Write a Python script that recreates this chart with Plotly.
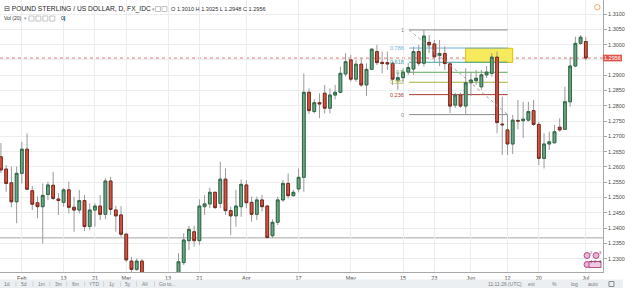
import plotly.graph_objects as go
import pandas as pd

# ---------------- data (GBPUSD daily) ----------------
dates = pd.bdate_range("2017-01-26", "2017-07-03")

opens = [1.2633, 1.2593, 1.2548, 1.2486, 1.2579, 1.2658, 1.2522, 1.2483, 1.2470, 1.2510,
         1.2540, 1.2495, 1.2484, 1.2525, 1.2468, 1.2459, 1.2490, 1.2405, 1.2459, 1.2472,
         1.2445, 1.2554, 1.2459, 1.2443, 1.2380, 1.2292, 1.2265, 1.2292, 1.2250, 1.2200,
         1.2170, 1.2160, 1.2185, 1.2220, 1.2155, 1.2287, 1.2359, 1.2388, 1.2359, 1.2470,
         1.2479, 1.2517, 1.2481, 1.2560, 1.2457, 1.2440, 1.2470, 1.2541, 1.2484, 1.2445,
         1.2492, 1.2472, 1.2375, 1.2419, 1.2492, 1.2546, 1.2506, 1.2528, 1.2566, 1.2844,
         1.2781, 1.2810, 1.2841, 1.2792, 1.2835, 1.2844, 1.2904, 1.2950, 1.2887, 1.2936,
         1.2868, 1.2919, 1.2977, 1.2942, 1.2941, 1.2939, 1.2884, 1.2892, 1.2910, 1.2920,
         1.2977, 1.2939, 1.3007, 1.3002, 1.2964, 1.2971, 1.2937, 1.2802, 1.2835, 1.2799,
         1.2875, 1.2882, 1.2862, 1.2901, 1.2906, 1.2959, 1.2740, 1.2721, 1.2675, 1.2752,
         1.2751, 1.2753, 1.2784, 1.2739, 1.2628, 1.2675, 1.2679, 1.2730, 1.2723, 1.2813,
         1.2930, 1.3004, 1.3010]
highs = [1.2678, 1.2606, 1.2601, 1.2601, 1.2682, 1.2710, 1.2538, 1.2503, 1.2546, 1.2552,
         1.2584, 1.2514, 1.2530, 1.2552, 1.2503, 1.2525, 1.2508, 1.2481, 1.2481, 1.2508,
         1.2563, 1.2568, 1.2472, 1.2472, 1.2384, 1.2306, 1.2301, 1.2299, 1.2255, 1.2215,
         1.2190, 1.2215, 1.2250, 1.2230, 1.2318, 1.2383, 1.2407, 1.2408, 1.2494, 1.2508,
         1.2532, 1.2519, 1.2617, 1.2595, 1.2470, 1.2525, 1.2559, 1.2557, 1.2503, 1.2503,
         1.2508, 1.2475, 1.2429, 1.2503, 1.2557, 1.2579, 1.2525, 1.2595, 1.2906, 1.2857,
         1.2821, 1.2841, 1.2868, 1.2857, 1.2868, 1.2928, 1.2972, 1.2966, 1.2950, 1.2955,
         1.2939, 1.2988, 1.2999, 1.2977, 1.2977, 1.2944, 1.2910, 1.2923, 1.2940, 1.2993,
         1.2999, 1.3048, 1.3031, 1.3015, 1.3015, 1.2995, 1.2943, 1.2842, 1.2842, 1.2923,
         1.2910, 1.2917, 1.2917, 1.2930, 1.2972, 1.2977, 1.2830, 1.2770, 1.2770, 1.2819,
         1.2813, 1.2813, 1.2819, 1.2747, 1.2710, 1.2715, 1.2737, 1.2759, 1.2862, 1.2960,
         1.3026, 1.3031, 1.3025]
lows = [1.2580, 1.2519, 1.2468, 1.2416, 1.2546, 1.2525, 1.2459, 1.2432, 1.2350, 1.2492,
        1.2492, 1.2443, 1.2470, 1.2448, 1.2388, 1.2448, 1.2390, 1.2394, 1.2405, 1.2426,
        1.2429, 1.2443, 1.2388, 1.2372, 1.2290, 1.2256, 1.2260, 1.2235, 1.2195, 1.2160,
        1.2135, 1.2150, 1.2180, 1.2110, 1.2145, 1.2279, 1.2328, 1.2339, 1.2345, 1.2443,
        1.2465, 1.2462, 1.2465, 1.2443, 1.2377, 1.2405, 1.2437, 1.2465, 1.2421, 1.2426,
        1.2454, 1.2367, 1.2367, 1.2410, 1.2486, 1.2497, 1.2503, 1.2517, 1.2519, 1.2773,
        1.2775, 1.2759, 1.2775, 1.2775, 1.2821, 1.2841, 1.2895, 1.2879, 1.2878, 1.2862,
        1.2832, 1.2917, 1.2933, 1.2906, 1.2917, 1.2868, 1.2852, 1.2878, 1.2901, 1.2901,
        1.2930, 1.2928, 1.2972, 1.2943, 1.2930, 1.2917, 1.2776, 1.2793, 1.2793, 1.2770,
        1.2832, 1.2868, 1.2852, 1.2891, 1.2895, 1.2710, 1.2639, 1.2639, 1.2642, 1.2723,
        1.2694, 1.2748, 1.2734, 1.2606, 1.2595, 1.2655, 1.2677, 1.2715, 1.2721, 1.2797,
        1.2927, 1.2999, 1.2948]
closes = [1.2590, 1.2546, 1.2486, 1.2579, 1.2658, 1.2527, 1.2478, 1.2470, 1.2507, 1.2541,
          1.2497, 1.2490, 1.2525, 1.2468, 1.2459, 1.2490, 1.2405, 1.2459, 1.2472, 1.2445,
          1.2554, 1.2461, 1.2440, 1.2380, 1.2296, 1.2265, 1.2292, 1.2250, 1.2200, 1.2170,
          1.2160, 1.2185, 1.2220, 1.2155, 1.2290, 1.2361, 1.2396, 1.2359, 1.2472, 1.2479,
          1.2517, 1.2467, 1.2560, 1.2457, 1.2440, 1.2472, 1.2543, 1.2483, 1.2445, 1.2492,
          1.2470, 1.2369, 1.2419, 1.2492, 1.2546, 1.2506, 1.2517, 1.2566, 1.2844, 1.2784,
          1.2810, 1.2806, 1.2792, 1.2835, 1.2844, 1.2906, 1.2944, 1.2887, 1.2936, 1.2868,
          1.2919, 1.2985, 1.2941, 1.2938, 1.2937, 1.2887, 1.2892, 1.2910, 1.2925, 1.2977,
          1.2939, 1.3028, 1.2999, 1.2960, 1.2971, 1.2938, 1.2799, 1.2835, 1.2799, 1.2875,
          1.2884, 1.2890, 1.2901, 1.2910, 1.2959, 1.2745, 1.2738, 1.2675, 1.2753, 1.2750,
          1.2756, 1.2781, 1.2739, 1.2628, 1.2675, 1.2682, 1.2715, 1.2721, 1.2813, 1.2930,
          1.3004, 1.3024, 1.2956]

tick_dates = ["2017-02-01", "2017-02-13", "2017-02-21", "2017-03-01", "2017-03-13",
              "2017-03-21", "2017-04-03", "2017-04-17", "2017-05-01", "2017-05-15",
              "2017-05-23", "2017-06-01", "2017-06-12", "2017-06-20", "2017-07-03"]
tick_labels = ["Feb", "13", "21", "Mar", "13", "21", "Apr", "17", "May", "15",
               "23", "Jun", "12", "20", "Jul"]

price_ticks = [1.2300, 1.2350, 1.2400, 1.2450, 1.2500, 1.2550, 1.2600, 1.2650, 1.2700,
               1.2750, 1.2800, 1.2850, 1.2900, 1.2950, 1.3000, 1.3050, 1.3100]
price_labels = ["1.2300", "1.2350", "1.2400", "1.2450", "1.2500", "1.2550", "1.2600",
                "1.2650", "1.2700", "1.2750", "1.2800", "1.2850", "1.2900", "",
                "1.3000", "1.3050", "1.3100"]

fib_levels = [0, 0.236, 0.382, 0.5, 0.618, 0.786, 1]
fib_label = ["0", "0.236", "0.382", "0.5", "0.618", "0.786", "1"]
fib_colors = ["#8c8c8c", "#a83a32", "#a8b240", "#5caa5c", "#3fa3a3", "#6fb2da", "#8c8c8c"]
fib_low, fib_high = 1.2771, 1.3048
fib_start, fib_end = "2017-05-16 04:00", "2017-06-12 01:00"

zone_low, zone_high = 1.2942, 1.2988
zone_start, zone_end = "2017-05-31 00:00", "2017-06-13 00:00"

last_price = 1.2956
support_price = 1.2368
x_range = ["2017-01-25 19:40", "2017-07-06 07:00"]
y_range = [1.22564, 1.31458]

# ---------------- figure ----------------
FONT = "Liberation Sans, Arial, sans-serif"
W, H = 625, 288
PW, PH = 605, 272

UP, DN = "#6ba583", "#d75442"
UPB, DNB = "#2f6a48", "#7a2a20"
WICK = "#9a9a9a"

body_hi = [max(o, c) for o, c in zip(opens, closes)]
body_lo = [min(o, c) for o, c in zip(opens, closes)]

fig = go.Figure()
# wicks
fig.add_trace(go.Candlestick(
    x=dates, open=opens, high=highs, low=lows, close=closes,
    increasing=dict(line=dict(color=WICK, width=1), fillcolor=WICK),
    decreasing=dict(line=dict(color=WICK, width=1), fillcolor=WICK),
    hoverinfo="skip", showlegend=False))
# bodies
fig.add_trace(go.Candlestick(
    x=dates, open=opens, high=body_hi, low=body_lo, close=closes,
    increasing=dict(line=dict(color=UPB, width=1), fillcolor=UP),
    decreasing=dict(line=dict(color=DNB, width=1), fillcolor=DN),
    showlegend=False))


def px(x, y):
    return x / PW, 1 - y / PH


def ann(text, x, y, size=6, color="#555555", xanchor="left", yanchor="middle", **kw):
    xp, yp = px(x, y)
    return dict(text=text, x=xp, y=yp, xref="paper", yref="paper", showarrow=False,
                font=dict(size=size, color=color, family=FONT),
                xanchor=xanchor, yanchor=yanchor, **kw)


shapes = []
annotations = []

# yellow zone
shapes.append(dict(type="rect", xref="x", yref="y", x0=zone_start, x1=zone_end,
                   y0=zone_low, y1=zone_high, fillcolor="#f7ea5c",
                   line=dict(color="#d9c200", width=1), layer="between"))

# support line and last price line
shapes.append(dict(type="line", xref="paper", yref="y", x0=0, x1=1,
                   y0=support_price, y1=support_price,
                   line=dict(color="#a6a6a6", width=1), layer="between"))
shapes.append(dict(type="line", xref="paper", yref="y", x0=0, x1=1,
                   y0=last_price, y1=last_price,
                   line=dict(color="#e07a74", width=1, dash="dot"), layer="between"))

# fib retracement
for lvl, lab, col in zip(fib_levels, fib_label, fib_colors):
    p = fib_low + lvl * (fib_high - fib_low)
    shapes.append(dict(type="line", xref="x", yref="y", x0=fib_start, x1=fib_end,
                       y0=p, y1=p, line=dict(color=col, width=1), layer="between"))
    annotations.append(dict(text=lab, x=fib_start, y=p, xref="x", yref="y",
                            showarrow=False, xanchor="right", yanchor="middle",
                            xshift=-3, font=dict(size=5.5, color=col, family=FONT)))
shapes.append(dict(type="line", xref="x", yref="y", x0=fib_start, x1=fib_end,
                   y0=fib_high, y1=fib_low,
                   line=dict(color="#a0a0a0", width=1, dash="dot"), layer="above"))

# price label on the axis
shapes.append(dict(type="rect", xref="paper", yref="y", x0=1.0, x1=624 / PW,
                   y0=last_price - 0.0011, y1=last_price + 0.0011,
                   fillcolor="#e0554a", line=dict(width=0)))
annotations.append(dict(text="1.2956", x=614.5 / PW, y=last_price, xref="paper", yref="y",
                        showarrow=False, xanchor="center", yanchor="middle",
                        font=dict(size=5.5, color="white", family=FONT)))

# bottom toolbar
x0p, y0p = px(0, 279.5)
x1p, y1p = px(W, H)
shapes.append(dict(type="rect", xref="paper", yref="paper", x0=x0p, x1=x1p,
                   y0=y1p, y1=y0p, fillcolor="#eceff2", line=dict(width=0)))
for t, xx in zip(["1d", "5d", "1m", "3m", "6m", "YTD", "1y", "5y", "All", "Go to..."],
                 [7.3, 24.3, 41.3, 58.7, 76, 94.3, 112.7, 128.3, 145.3, 168]):
    annotations.append(ann(t, xx, 284, size=5, color="#7a7a7a", xanchor="center"))
for xx in [16, 33, 50, 67, 85, 104, 121, 137, 155]:
    xp, _ = px(xx, 0)
    shapes.append(dict(type="line", xref="paper", yref="paper", x0=xp, x1=xp,
                       y0=px(0, 281.5)[1], y1=px(0, 286.5)[1],
                       line=dict(color="#cfd3d8", width=1)))
for t, xx in zip(["11:11:26 (UTC)", "ext", "%", "log", "auto"],
                 [506.7, 533, 556.7, 576, 595]):
    annotations.append(ann(t, xx, 284, size=5, color="#7a7a7a", xanchor="center"))
shapes.append(dict(type="rect", xref="paper", yref="paper",
                   x0=px(611, 0)[0], x1=px(616, 0)[0], y0=px(0, 286.5)[1], y1=px(0, 281.5)[1],
                   line=dict(color="#8a8a8a", width=1)))

# header
annotations.append(ann("⊟ POUND STERLING / US DOLLAR, D, FX_IDC", 2, 9, size=6.7,
                       color="#262626"))
annotations.append(ann("▾", 150, 9, size=5, color="#9a9a9a"))
for xx in [156, 162.5]:
    shapes.append(dict(type="rect", xref="paper", yref="paper",
                       x0=px(xx, 0)[0], x1=px(xx + 5, 0)[0], y0=px(0, 11.5)[1], y1=px(0, 6.5)[1],
                       line=dict(color="#c4c4c4", width=1)))
annotations.append(ann("O 1.3010 H 1.3025 L 1.2948 C 1.2956", 169.5, 9, size=5.6,
                       color="#333333"))
annotations.append(ann("Vol (20)", 2, 18.5, size=5, color="#333333"))
annotations.append(ann("▾", 22, 18.5, size=4.5, color="#9a9a9a"))
for xx in [29, 36, 43, 50]:
    shapes.append(dict(type="rect", xref="paper", yref="paper",
                       x0=px(xx, 0)[0], x1=px(xx + 5, 0)[0], y0=px(0, 21)[1], y1=px(0, 16)[1],
                       line=dict(color="#c4c4c4", width=1)))
annotations.append(ann("0", 59, 18.5, size=5, color="#333333"))
shapes.append(dict(type="rect", xref="paper", yref="paper",
                   x0=px(64, 0)[0], x1=px(65.5, 0)[0], y0=px(0, 21)[1], y1=px(0, 16)[1],
                   fillcolor="#4a90d9", line=dict(width=0)))

# top-right clock icon
shapes.append(dict(type="circle", xref="paper", yref="paper",
                   x0=px(596.5, 0)[0], x1=px(602, 0)[0], y0=px(0, 10)[1], y1=px(0, 4.5)[1],
                   line=dict(color="#f0a868", width=1)))

# event markers bottom-right
for cx, cy in [(589, 255.5), (598, 255.5), (589, 264.5)]:
    shapes.append(dict(type="circle", xref="paper", yref="paper",
                       x0=px(cx - 3, 0)[0], x1=px(cx + 3, 0)[0],
                       y0=px(0, cy + 3)[1], y1=px(0, cy - 3)[1],
                       fillcolor="#e8b4d4", line=dict(color="#b0508c", width=1)))
shapes.append(dict(type="rect", xref="paper", yref="paper",
                   x0=px(591, 0)[0], x1=px(603, 0)[0], y0=px(0, 267.5)[1], y1=px(0, 261.5)[1],
                   fillcolor="#f0c8e0", line=dict(color="#b0508c", width=1)))
for t, xx, yy in [("2", 593.5, 252.5), ("3", 602.5, 252.5), ("4", 593.5, 261), ("2", 597.5, 261), ("3", 602, 261)]:
    annotations.append(ann(t, xx, yy, size=4, color="#7a2a5a", xanchor="center"))

fig.update_layout(
    width=W, height=H,
    margin=dict(l=0, r=W - PW, t=0, b=H - PH),
    paper_bgcolor="white", plot_bgcolor="white",
    showlegend=False, boxgap=0.25,
    font=dict(family=FONT, size=6, color="#4a4a4a"),
    shapes=shapes, annotations=annotations,
    xaxis=dict(type="date", range=x_range, rangeslider=dict(visible=False),
               rangebreaks=[dict(bounds=["sat", "mon"])],
               tickvals=tick_dates, ticktext=tick_labels, tickangle=0,
               tickfont=dict(size=5.5, color="#4a4a4a", family=FONT),
               showgrid=True, gridcolor="#ededed", gridwidth=1,
               showline=True, linecolor="#a8a8a8", linewidth=1,
               ticks="", zeroline=False, fixedrange=True),
    yaxis=dict(side="right", range=y_range, tickvals=price_ticks, ticktext=price_labels,
               tickfont=dict(size=5.5, color="#4a4a4a", family=FONT),
               showgrid=True, gridcolor="#ededed", gridwidth=1,
               showline=True, linecolor="#a8a8a8", linewidth=1,
               ticks="outside", ticklen=3, tickcolor="#a8a8a8",
               zeroline=False, fixedrange=True),
)

fig.write_html("out.html")
